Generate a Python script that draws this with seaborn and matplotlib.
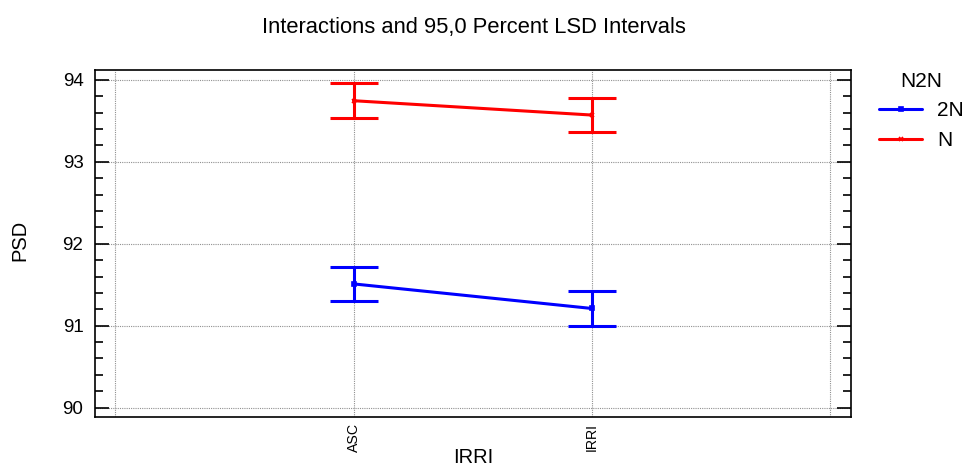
import matplotlib
matplotlib.use("Agg")
import matplotlib.pyplot as plt
import seaborn as sns
import pandas as pd
from matplotlib.ticker import MultipleLocator

# Group means and LSD half-widths of PSD by irrigation level and N2N
irri_levels = ["ASC", "IRRI"]
n2n_levels = ["2N", "N"]
psd_2n = [91.51, 91.21]
psd_n = [93.745, 93.57]
lsd_2n = [0.21, 0.21]
lsd_n = [0.21, 0.21]

sns.set_theme(style="white")
plt.rcParams["font.family"] = ["Liberation Sans", "DejaVu Sans"]
for key in ["text.color", "axes.labelcolor", "xtick.color", "ytick.color"]:
    plt.rcParams[key] = "black"

W, H = 966, 468
fig = plt.figure(figsize=(W / 100, H / 100), dpi=100)
ax = fig.add_axes([94.5 / W, 1 - 417 / H, (851 - 94.5) / W, (417 - 70.3) / H])

xpos = [1, 2]
palette = {"2N": "#0000ff", "N": "#ff0000"}
markers = {"2N": "s", "N": "x"}
series = {"2N": (psd_2n, lsd_2n), "N": (psd_n, lsd_n)}

for lvl in n2n_levels:
    vals, errs = series[lvl]
    df = pd.DataFrame({"IRRI": xpos, "PSD": vals})
    sns.lineplot(data=df, x="IRRI", y="PSD", color=palette[lvl],
                 marker=markers[lvl], markersize=3.5, markeredgewidth=1.2,
                 markeredgecolor=palette[lvl],
                 linewidth=2.2, ax=ax, label=lvl)
    ax.errorbar(xpos, vals, yerr=errs, fmt="none", ecolor=palette[lvl],
                elinewidth=2.2, capsize=17.3, capthick=2.2, zorder=3)

ax.set_xlim(-0.086, 3.086)
ax.set_ylim(89.886, 94.116)
ax.set_xticks([0, 1, 2, 3])
ax.set_xticklabels([""] + irri_levels + [""], rotation=90, fontsize=10.2)
ax.tick_params(axis="x", length=0, pad=4)
ax.yaxis.set_major_locator(MultipleLocator(1))
ax.yaxis.set_minor_locator(MultipleLocator(0.2))
ax.tick_params(axis="y", which="major", direction="in", length=10, width=1.2,
               left=True, right=True, labelsize=13.5, color="black", pad=8)
ax.tick_params(axis="y", which="minor", direction="in", length=5.5, width=1.2,
               left=True, right=True, color="black")
ax.grid(True, which="major", linestyle=(0, (1, 1)), color="#909090", linewidth=0.8)
ax.set_axisbelow(True)
for s in ax.spines.values():
    s.set_color("black")
    s.set_linewidth(1.2)

ax.set_xlabel("")
ax.set_ylabel("")
fig.text(473 / W, 1 - 448 / H, "IRRI", ha="center", va="top", fontsize=14.5)
fig.text(20 / W, 1 - 240 / H, "PSD", ha="center", va="center",
         rotation=90, fontsize=14.5)
fig.text(473.5 / W, 1 - 33 / H, "Interactions and 95,0 Percent LSD Intervals",
         ha="center", va="baseline", fontsize=15.8)

leg = ax.legend(title="N2N", loc="upper left", bbox_to_anchor=(879 / W, 1 - 72 / H),
                bbox_transform=fig.transFigure, frameon=False, fontsize=15,
                title_fontsize=15, handlelength=2.07, handletextpad=0.72,
                labelspacing=0.5, borderaxespad=0, borderpad=0)

fig.savefig("out.png", dpi=100)
